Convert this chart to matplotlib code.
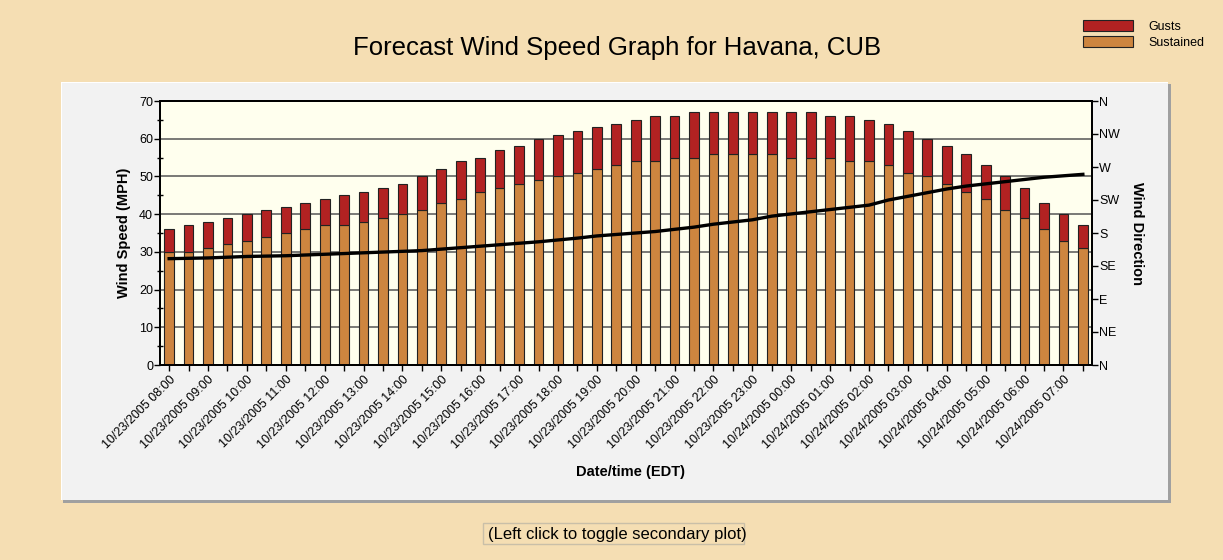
import numpy as np
import matplotlib
matplotlib.use("Agg")
import matplotlib.pyplot as plt
from matplotlib.patches import Rectangle, Patch
from matplotlib.ticker import MultipleLocator

plt.rcParams.update({
    "font.family": ["Liberation Sans", "DejaVu Sans"],
    "font.size": 9,
})

# ── colours ───────────────────────────────────────────────────────────────
BG = "#F5DEB3"
PANEL = "#F2F2F2"
PLOT_BG = "#FFFFEE"
GUST = "#B22222"
SUST = "#CD853F"

# ── data (one bar every 30 min, 10/23/2005 08:00 -> 10/24/2005 07:30) ─────
sustained = [30, 30, 31, 32, 33, 34, 35, 36, 37, 37,
             38, 39, 40, 41, 43, 44, 46, 47, 48, 49,
             50, 51, 52, 53, 54, 54, 55, 55, 56, 56,
             56, 56, 55, 55, 55, 54, 54, 53, 51, 50,
             48, 46, 44, 41, 39, 36, 33, 31]
gusts = [36, 37, 38, 39, 40, 41, 42, 43, 44, 45,
         46, 47, 48, 50, 52, 54, 55, 57, 58, 60,
         61, 62, 63, 64, 65, 66, 66, 67, 67, 67,
         67, 67, 67, 67, 66, 66, 65, 64, 62, 60,
         58, 56, 53, 50, 47, 43, 40, 37]
direction = [145, 145.5, 146, 147, 148, 148.5, 149, 150, 151, 152,
             153, 154, 155, 156, 158, 160, 162, 164, 166, 168,
             170.5, 173, 176, 178, 180, 182, 185, 188, 192, 195,
             198, 203, 206, 209, 212, 215, 218, 225, 230, 235,
             240, 244, 247, 250, 253, 256, 258, 260]

hour_labels = ["10/23/2005 08:00", "10/23/2005 09:00", "10/23/2005 10:00",
               "10/23/2005 11:00", "10/23/2005 12:00", "10/23/2005 13:00",
               "10/23/2005 14:00", "10/23/2005 15:00", "10/23/2005 16:00",
               "10/23/2005 17:00", "10/23/2005 18:00", "10/23/2005 19:00",
               "10/23/2005 20:00", "10/23/2005 21:00", "10/23/2005 22:00",
               "10/23/2005 23:00", "10/24/2005 00:00", "10/24/2005 01:00",
               "10/24/2005 02:00", "10/24/2005 03:00", "10/24/2005 04:00",
               "10/24/2005 05:00", "10/24/2005 06:00", "10/24/2005 07:00"]

compass = ["N", "NE", "E", "SE", "S", "SW", "W", "NW", "N"]

# ── figure ────────────────────────────────────────────────────────────────
W, H = 1223, 560
fig = plt.figure(figsize=(W / 100, H / 100), dpi=100, facecolor=BG)

def px(x0, y0, x1, y1):
    """pixel box -> figure fraction rect"""
    return (x0 / W, 1 - y1 / H, (x1 - x0) / W, (y1 - y0) / H)

# grey panel with shadow and highlight
r = px(63, 84, 1171, 503)
fig.add_artist(Rectangle(r[:2], r[2], r[3], transform=fig.transFigure,
                         facecolor="#A0A0A0", edgecolor="none", zorder=0))
r = px(61, 82, 1168, 500)
fig.add_artist(Rectangle(r[:2], r[2], r[3], transform=fig.transFigure,
                         facecolor="white", edgecolor="none", zorder=0))
r = px(62, 83, 1168, 500)
fig.add_artist(Rectangle(r[:2], r[2], r[3], transform=fig.transFigure,
                         facecolor=PANEL, edgecolor="none", zorder=0))

ax = fig.add_axes(px(160, 101, 1092, 365))
ax.set_facecolor(PLOT_BG)

x = np.arange(len(sustained))
sus = np.array(sustained)
gst = np.array(gusts)
ax.bar(x, sus, 0.5, color=SUST, edgecolor="#222222", linewidth=0.8, zorder=3)
ax.bar(x, gst - sus, 0.5, bottom=sus, color=GUST, edgecolor="#222222",
       linewidth=0.8, zorder=3)

ax.set_xlim(-0.47, len(x) - 0.53)
ax.set_ylim(0, 70)
ax.yaxis.set_major_locator(MultipleLocator(10))
ax.yaxis.set_minor_locator(MultipleLocator(5))
ax.grid(axis="y", which="major", color="#555555", linewidth=1.1, zorder=1)
ax.set_axisbelow(True)

ax.set_xticks(x)
ax.set_xticklabels([hour_labels[i // 2] if i % 2 == 0 else "" for i in x],
                   rotation=45, ha="right", va="top", rotation_mode="anchor")
ax.tick_params(axis="x", length=4, width=1, pad=2, labelsize=9)
ax.tick_params(axis="y", which="major", length=4, width=1, pad=1, labelsize=9)
ax.tick_params(axis="y", which="minor", length=4, width=1, direction="inout")
for s in ax.spines.values():
    s.set_linewidth(1.4)

ax2 = ax.twinx()
ax2.plot(x, direction, color="black", linewidth=2.4, zorder=5)
ax2.set_ylim(0, 360)
ax2.set_yticks(np.arange(0, 361, 45))
ax2.set_yticklabels(compass)
ax2.tick_params(axis="y", length=4, width=1, pad=1, labelsize=9)
for s in ax2.spines.values():
    s.set_linewidth(1.4)

# ── texts ─────────────────────────────────────────────────────────────────
fig.text(617 / W, 1 - 48 / H, "Forecast Wind Speed Graph for Havana, CUB",
         ha="center", va="center", fontsize=18.5)
fig.text(124 / W, 1 - 233 / H, "Wind Speed (MPH)", rotation=90,
         ha="center", va="center", fontsize=10.5, fontweight="bold")
fig.text(1137 / W, 1 - 233 / H, "Wind Direction", rotation=270,
         ha="center", va="center", fontsize=10.5, fontweight="bold")
fig.text(630 / W, 1 - 472 / H, "Date/time (EDT)",
         ha="center", va="center", fontsize=10.5, fontweight="bold")

fig.text(617 / W, 1 - 534 / H, "(Left click to toggle secondary plot)",
         ha="center", va="center", fontsize=12)
r = px(483, 523, 744, 544)
fig.add_artist(Rectangle(r[:2], r[2], r[3], transform=fig.transFigure,
                         facecolor="none", edgecolor="#C9BFA8", linewidth=1))

handles = [Patch(facecolor=GUST, edgecolor="#222222", linewidth=0.8),
           Patch(facecolor=SUST, edgecolor="#222222", linewidth=0.8)]
fig.legend(handles, ["Gusts", "Sustained"], loc="upper left",
           bbox_to_anchor=(1083 / W, 1 - 20 / H), frameon=False,
           fontsize=9, handlelength=4.0, handleheight=1.0,
           handletextpad=1.2, labelspacing=0.25, borderpad=0,
           borderaxespad=0)

fig.savefig("out.png", dpi=100, facecolor=BG)
